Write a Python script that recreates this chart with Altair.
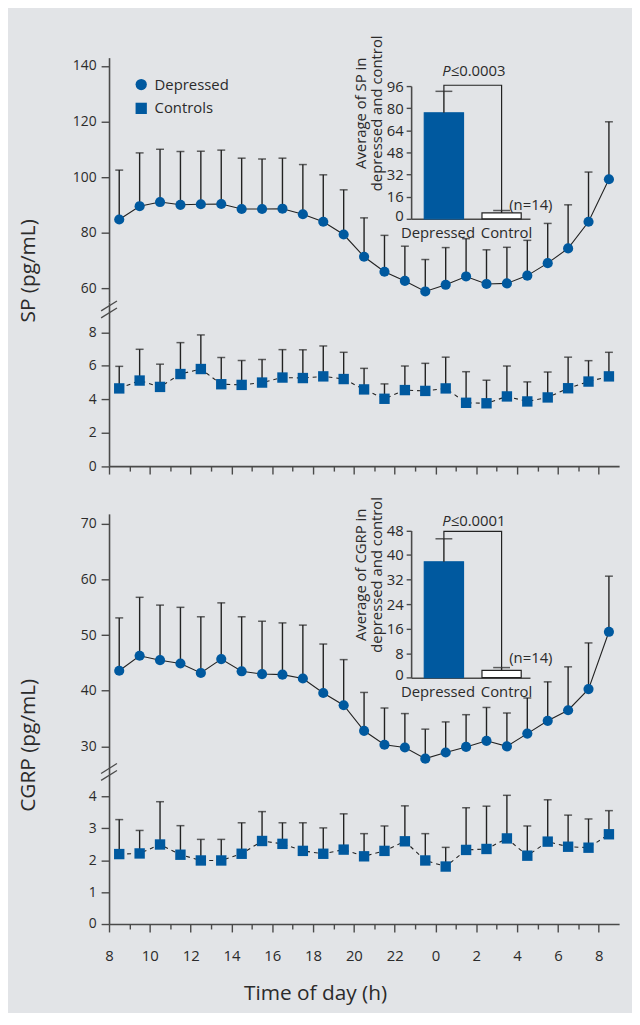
import altair as alt
import pandas as pd

# ---------------- data ----------------
time_h = [8.5, 9.5, 10.5, 11.5, 12.5, 13.5, 14.5, 15.5, 16.5, 17.5, 18.5, 19.5,
          20.5, 21.5, 22.5, 23.5, 24.5, 25.5, 26.5, 27.5, 28.5, 29.5, 30.5, 31.5, 32.5]

sp_dep_mean = [84.7, 89.5, 91.0, 90.0, 90.2, 90.3, 88.5, 88.5, 88.6, 86.6, 83.9, 79.3,
               71.3, 65.9, 62.6, 58.8, 61.2, 64.2, 61.5, 61.7, 64.5, 69.0, 74.3, 83.9, 99.2]
sp_dep_sd = [17.8, 19.2, 19.0, 19.2, 19.1, 19.4, 18.3, 18.0, 18.2, 17.9, 16.9, 16.1,
             14.0, 13.1, 12.5, 11.5, 13.4, 13.6, 12.3, 13.0, 12.7, 14.3, 15.7, 17.9, 20.7]

sp_ctl_mean = [4.65, 5.12, 4.74, 5.51, 5.81, 4.90, 4.86, 5.00, 5.30, 5.27, 5.37, 5.21,
               4.59, 4.03, 4.55, 4.50, 4.65, 3.79, 3.76, 4.17, 3.87, 4.11, 4.66, 5.06, 5.37]
sp_ctl_sd = [1.32, 1.87, 1.36, 1.88, 2.04, 1.60, 1.46, 1.38, 1.67, 1.69, 1.82, 1.60,
             1.26, 0.89, 1.44, 1.65, 1.87, 1.86, 1.38, 1.82, 1.17, 1.52, 1.86, 1.25, 1.44]

cgrp_dep_mean = [43.6, 46.3, 45.5, 44.9, 43.2, 45.7, 43.5, 43.0, 42.9, 42.2, 39.6, 37.4,
                 32.8, 30.3, 29.8, 27.8, 28.9, 29.9, 31.0, 30.0, 32.3, 34.6, 36.5, 40.3, 50.6]
cgrp_dep_sd = [9.5, 10.5, 9.9, 10.1, 10.1, 10.1, 9.8, 9.5, 9.3, 9.6, 8.8, 8.2,
               6.9, 6.6, 6.1, 5.3, 5.5, 5.8, 6.0, 6.0, 6.4, 7.0, 7.8, 8.3, 10.0]

cgrp_ctl_mean = [2.19, 2.21, 2.49, 2.17, 1.99, 1.99, 2.20, 2.60, 2.51, 2.29, 2.20, 2.33,
                 2.12, 2.29, 2.59, 1.99, 1.80, 2.32, 2.35, 2.68, 2.14, 2.58, 2.42, 2.39, 2.81]
cgrp_ctl_sd = [1.08, 0.72, 1.34, 0.91, 0.66, 0.66, 0.97, 0.92, 0.66, 0.88, 0.81, 1.12,
               0.71, 0.78, 1.11, 0.84, 0.60, 1.32, 1.34, 1.35, 0.93, 1.31, 0.99, 0.90, 0.74]

legend_groups = ["Depressed", "Controls"]
inset_groups = ["Depressed", "Control"]
sp_inset_mean = [76.7, 4.3]
sp_inset_sd = [15.5, 1.7]
sp_bracket_top = 96.6
cgrp_inset_mean = [37.8, 2.4]
cgrp_inset_sd = [7.5, 0.9]
cgrp_bracket_top = 47.7
p_labels = ["≤0.0003", "≤0.0001"]
n_label = "(n=14)"

major_hours = [8, 10, 12, 14, 16, 18, 20, 22, 24, 26, 28, 30, 32]
minor_hours = [9, 11, 13, 15, 17, 19, 21, 23, 25, 27, 29, 31]

# ---------------- style ----------------
BLUE = "#00599f"
INK = "#222222"
AX = "#4a4a4a"
TXT = "#2b2b2b"
BG = "#e2e4e7"
FONT = "Open Sans"
X_DOM = [8, 33]


def series_df(mean, sd, group):
    df = pd.DataFrame({"time": time_h, "mean": mean, "sd": sd, "group": group})
    df["upper"] = df["mean"] + df["sd"]
    return df


def xenc(axis=None):
    return alt.X("time:Q", scale=alt.Scale(domain=X_DOM, nice=False, zero=False), axis=axis)


legend = alt.Legend(orient="none", legendX=25, legendY=65, title=None, labelFontSize=15,
                    labelFont=FONT, labelColor=TXT, symbolSize=130, symbolFillColor=BLUE,
                    symbolStrokeWidth=0, rowPadding=8, labelOffset=6, padding=0)

shape_scale = alt.Scale(domain=legend_groups, range=["circle", "square"])


def panel(df, domain, rng, dashed, yaxis=None, xmajor=None, xminor=None, size=100):
    sc = alt.Scale(domain=domain, range=rng, nice=False, zero=False)
    base = alt.Chart(df)
    rules = base.mark_rule(color=INK, strokeWidth=1.4).encode(
        x=xenc(xmajor), y=alt.Y("mean:Q", scale=sc, axis=yaxis), y2="upper:Q")
    caps = base.mark_tick(orient="horizontal", size=8, thickness=1.5, color=INK).encode(
        x=xenc(), y=alt.Y("upper:Q", scale=sc, axis=None))
    line_kw = dict(color=INK, strokeWidth=1.1)
    if dashed:
        line_kw["strokeDash"] = [4, 4]
    line = base.mark_line(**line_kw).encode(
        x=xenc(xminor), y=alt.Y("mean:Q", scale=sc, axis=None))
    pts = base.mark_point(filled=True, size=size, opacity=1, color=BLUE).encode(
        x=xenc(), y=alt.Y("mean:Q", scale=sc, axis=None),
        shape=alt.Shape("group:N", scale=shape_scale, legend=legend))
    return [rules, caps, line, pts]


def yaxis(values, title=None, title_y=0):
    kw = dict(orient="left", values=values, tickSize=8, labelPadding=5, grid=False,
              labelFontSize=14)
    if title:
        kw.update(title=title, titleX=-81, titleY=title_y, titleAngle=270,
                  titleAlign="center", titleBaseline="middle", titleFontSize=21)
    else:
        kw.update(title=None)
    return alt.Axis(**kw)


TOP_OFF = -462.3
top_major = alt.Axis(orient="bottom", offset=TOP_OFF, values=major_hours, labels=False,
                     tickSize=8, title=None, grid=False)
top_minor = alt.Axis(orient="bottom", offset=TOP_OFF, values=minor_hours, labels=False,
                     domain=False, tickSize=5, title=None, grid=False)
bot_major = alt.Axis(orient="bottom", values=major_hours, labelExpr="'' + (datum.value % 24)",
                     tickSize=8, labelPadding=17, labelFontSize=15, labelFlush=False,
                     title="Time of day (h)", titleX=208, titleY=76, titleAlign="center",
                     titleBaseline="alphabetic", titleFontSize=21, grid=False)
bot_minor = alt.Axis(orient="bottom", values=minor_hours, labels=False, domain=False,
                     tickSize=5, title=None, grid=False)

layers = []
layers += panel(series_df(sp_dep_mean, sp_dep_sd, "Depressed"), [55, 143], [292.0, 45.3], False,
                yaxis=yaxis([60, 80, 100, 120, 140], "SP (pg/mL)", 260),
                xmajor=top_major, xminor=top_minor, size=105)
layers += panel(series_df(sp_ctl_mean, sp_ctl_sd, "Controls"), [0, 9.82], [457.7, 292.0], True,
                yaxis=yaxis([0, 2, 4, 6, 8]), size=110)
layers += panel(series_df(cgrp_dep_mean, cgrp_dep_sd, "Depressed"), [26.2, 71.8], [762.0, 505.9], False,
                yaxis=yaxis([30, 40, 50, 60, 70], "CGRP (pg/mL)", 739), size=105)
layers += panel(series_df(cgrp_ctl_mean, cgrp_ctl_sd, "Controls"), [0, 4.9], [920, 762], True,
                yaxis=yaxis([0, 1, 2, 3, 4]), xmajor=bot_major, xminor=bot_minor, size=110)


def inset(means, sds, bracket_top, ydom, yrng, yticks, title_lines, title_y, xoff, p_label, p_y, n_y):
    df = pd.DataFrame({"group": inset_groups, "mean": means, "sd": sds})
    df["upper"] = df["mean"] + df["sd"]
    xs = alt.Scale(type="band", domain=inset_groups, range=[305, 425],
                   paddingInner=0.32, paddingOuter=0.19, align=0.6)
    ys = alt.Scale(domain=ydom, range=yrng, nice=False, zero=False)
    base = alt.Chart(df)
    bars = base.mark_bar(strokeWidth=1.2).encode(
        x=alt.X("group:N", scale=xs, sort=inset_groups,
                axis=alt.Axis(orient="bottom", offset=xoff, ticks=False, title=None, labelAngle=0,
                              labelFontSize=15, labelPadding=7, grid=False,
                              labelOffset={"condition": {"test": "datum.value === 'Depressed'",
                                                         "value": -6}, "value": 5})),
        y=alt.Y("mean:Q", scale=ys,
                axis=alt.Axis(orient="left", offset=-305, values=yticks, title=title_lines,
                              titleX=-51, titleY=title_y, titleAngle=270, titleAlign="center",
                              titleBaseline="middle", titleFontSize=15, titleLineHeight=16,
                              tickSize=5, labelPadding=3, labelFontSize=15, grid=False,
                              labelOffset={"condition": {"test": "datum.value === 0",
                                                         "value": -3}, "value": 0})),
        fill=alt.Fill("group:N", scale=alt.Scale(domain=inset_groups, range=[BLUE, "white"]), legend=None),
        stroke=alt.Stroke("group:N", scale=alt.Scale(domain=inset_groups, range=[BLUE, INK]), legend=None),
    )
    err = base.mark_rule(color=INK, strokeWidth=1.4).encode(
        x=alt.X("group:N", scale=xs, axis=None),
        y=alt.Y("mean:Q", scale=ys, axis=None), y2="upper:Q")
    cap = base.mark_tick(orient="horizontal", size=17, thickness=1.5, color=INK).encode(
        x=alt.X("group:N", scale=xs, axis=None),
        y=alt.Y("upper:Q", scale=ys, axis=None))
    br = pd.DataFrame({
        "group": [inset_groups[0], inset_groups[0], inset_groups[1], inset_groups[1]],
        "v": [means[0] + sds[0], bracket_top, bracket_top, means[1] + sds[1]],
        "o": [0, 1, 2, 3]})
    bracket = alt.Chart(br).mark_line(color=INK, strokeWidth=1.2).encode(
        x=alt.X("group:N", scale=xs, axis=None),
        y=alt.Y("v:Q", scale=ys, axis=None), order="o:Q")
    ptxt = alt.Chart(pd.DataFrame({"t": ["P"]})).mark_text(
        fontStyle="italic", align="right", baseline="middle", fontSize=15, font=FONT, color=TXT
    ).encode(x=alt.value(345), y=alt.value(p_y), text="t:N")
    vtxt = alt.Chart(pd.DataFrame({"t": [p_label]})).mark_text(
        align="left", baseline="middle", fontSize=15, font=FONT, color=TXT
    ).encode(x=alt.value(345), y=alt.value(p_y), text="t:N")
    ntxt = alt.Chart(pd.DataFrame({"t": [n_label]})).mark_text(
        align="left", baseline="middle", fontSize=15, font=FONT, color=TXT
    ).encode(x=alt.value(404), y=alt.value(n_y), text="t:N")
    return [bars, err, cap, bracket, ptxt, vtxt, ntxt]


layers += inset(sp_inset_mean, sp_inset_sd, sp_bracket_top, [0, 96], [208, 74],
                [0, 16, 32, 48, 64, 80, 96], ["Average of SP in", "depressed and control"], 101,
                -712, p_labels[0], 58.7, 193.7)
layers += inset(cgrp_inset_mean, cgrp_inset_sd, cgrp_bracket_top, [0, 48], [671.3, 522.7],
                [0, 8, 16, 24, 32, 40, 48], ["Average of CGRP in", "depressed and control"], 567,
                -248.7, p_labels[1], 512.7, 651.3)

# axis break marks
dummy = pd.DataFrame({"k": [0]})
for (ya, yb) in [(301, 291), (308, 298), (768, 758), (775, 765)]:
    layers.append(alt.Chart(dummy).mark_rule(color=AX, strokeWidth=1.3).encode(
        x=alt.value(-8), x2=alt.value(8), y=alt.value(ya), y2=alt.value(yb)))

chart = alt.layer(*layers).resolve_scale(x="independent", y="independent").properties(
    width=515, height=920,
    autosize=alt.AutoSizeParams(type="none"),
    padding={"left": 102, "top": 0, "right": 13, "bottom": 85},
).configure(background=BG, font=FONT).configure_view(strokeWidth=0).configure_axis(
    domainColor=AX, domainWidth=1.6, tickColor=AX, tickWidth=1.4, labelColor=TXT,
    titleColor=TXT, labelFont=FONT, titleFont=FONT, titleFontWeight="normal"
)

chart.save("out.html", embed_options={"renderer": "svg", "actions": False})
